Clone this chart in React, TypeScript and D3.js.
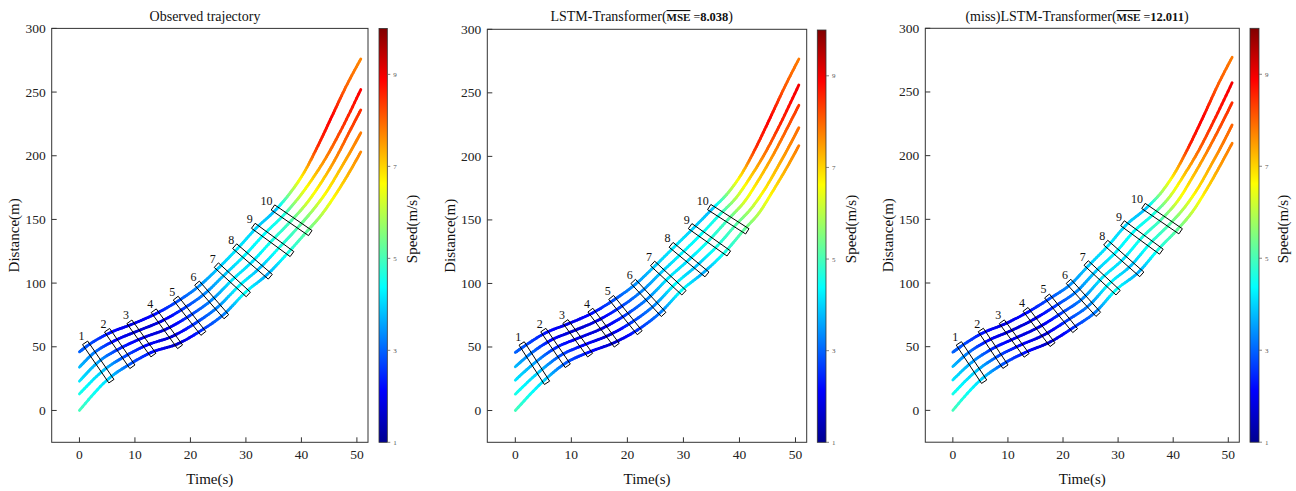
import React from 'react';
import * as d3 from 'd3';

type P = [number, number];

// ---------- axis / colour data ----------
const xTicks = [0, 10, 20, 30, 40, 50];
const yTicks = [0, 50, 100, 150, 200, 250, 300];
const speedTicks = [1, 3, 5, 7, 9];
const timeDomain: P = [-5, 52];
const distDomain: P = [-25, 300];
const speedDomain: P = [1, 10];

const titles = ['Observed trajectory', 'LSTM-Transformer(', '(miss)LSTM-Transformer('];
const mseValues = ['', '8.038', '12.011'];

// ---------- observed trajectories [time(s), distance(m)] ----------
const obsA: P[] = [[0,46],[1.4,50.7],[5.34,60.7],[9.34,67.5],[13.78,76.0],[17.79,86.0],[21.62,97.9],[25.16,112.3],[28.48,127.1],[31.86,143.2],[35.44,157.8],[38,171],[40.5,187],[43,208],[45.5,231],[48,254],[50.7,276]];
const obsB: P[] = [[0,34],[2.39,44.4],[6.3,54.7],[10.25,62.0],[14.76,70.1],[18.82,80.2],[22.74,92.3],[26.35,107.4],[29.83,122.0],[33.33,138.6],[36.84,153.6],[39.5,167],[42,182],[44.5,199],[47,219],[50.7,252]];
const obsC: P[] = [[0,23],[3.39,38.05],[7.26,48.65],[11.15,56.55],[15.75,64.15],[19.85,74.35],[23.85,86.8],[27.55,102.6],[31.18,117.0],[34.8,133.9],[38.25,149.35],[41,163],[43.5,178.5],[46,196.5],[48.5,217.5],[50.7,236]];
const obsD: P[] = [[0,13],[4.39,31.7],[8.22,42.6],[12.05,51.1],[16.74,58.2],[20.88,68.5],[24.96,81.3],[28.75,97.8],[32.53,112.0],[36.27,129.2],[39.66,145.1],[42,157],[44.5,171.5],[47,189.5],[49,204.5],[50.7,218]];
const obsE: P[] = [[0,0],[5.38,25.4],[9.18,36.6],[12.96,45.6],[17.72,52.3],[21.91,62.7],[26.08,75.7],[29.94,92.9],[33.88,106.9],[37.74,124.6],[41.06,140.9],[43.5,153],[46,168.5],[48.5,186],[50.7,203]];
// speeds (m/s) at the same points
const obsAv = [3.0,2.9,2.3,1.8,2.2,2.8,3.4,3.9,4.2,4.0,3.8,5.6,7.0,8.5,8.9,8.0,7.7];
const obsBv = [3.8,3.3,2.2,1.6,1.8,2.6,3.3,3.9,4.3,4.4,4.6,6.0,7.0,7.7,8.3,8.9];
const obsCv = [4.2,3.6,2.5,1.9,1.7,2.6,3.3,4.2,4.1,4.6,5.0,6.2,6.9,7.6,8.2,8.5];
const obsDv = [4.6,3.9,2.8,2.2,1.6,2.6,3.3,4.4,3.8,4.6,5.1,5.8,6.7,7.2,7.6,7.8];
const obsEv = [5.0,4.0,2.9,2.3,1.5,2.5,3.2,4.5,3.6,4.6,5.2,5.9,6.7,7.3,7.7];

// ---------- LSTM-Transformer predictions ----------
const lstmA: P[] = [[0,45.7],[1.49,50.3],[5.35,61.0],[9.29,68.0],[13.78,76.8],[17.51,86.8],[21.47,99.5],[24.95,113.9],[28.31,128.5],[31.75,143.4],[35.14,158.6],[38,171.5],[40.5,187],[43,207.5],[45.5,230.5],[48,254],[50.6,276.6]];
const lstmB: P[] = [[0,34.4],[2.44,43.8],[6.26,55.1],[10.22,62.4],[14.76,71.0],[18.58,80.9],[22.61,94.1],[26.12,109.0],[29.66,123.6],[33.2,138.9],[36.57,154.6],[39.5,168],[42,184],[44.5,202],[47,223],[50.6,256.2]];
const lstmC: P[] = [[0,23.9],[3.4,37.3],[7.18,49.25],[11.15,56.85],[15.75,65.2],[19.65,75.1],[23.75,88.6],[27.3,104.2],[31.0,118.75],[34.65,134.35],[38.0,150.55],[41,165],[43.5,182],[46,201],[48.5,222],[50.6,240.2]];
const lstmD: P[] = [[0,12.9],[4.35,30.8],[8.1,43.4],[12.07,51.3],[16.74,59.4],[20.72,69.3],[24.89,83.1],[28.48,99.4],[32.34,113.9],[36.1,129.8],[39.43,146.5],[42,158.5],[44.5,174],[47,193],[49,209],[50.6,222.6]];
const lstmE: P[] = [[0,0],[5.3,24.3],[9.01,37.45],[13.0,45.7],[17.72,53.6],[21.79,63.4],[26.03,77.7],[29.65,94.5],[33.69,109.0],[37.55,125.3],[40.86,142.5],[43.5,155.5],[46,173],[48.5,191.5],[50.6,208.4]];
const lstmAv = [3.0,2.9,2.3,1.8,2.2,2.8,3.4,3.9,4.2,4.0,3.8,5.6,7.0,8.5,8.9,8.1,7.8];
const lstmBv = [3.8,3.3,2.2,1.6,1.8,2.6,3.3,3.9,4.3,4.4,4.6,6.0,7.0,7.8,8.5,9.0];
const lstmCv = [4.2,3.6,2.5,1.9,1.7,2.6,3.3,4.2,4.1,4.6,5.0,6.3,7.0,7.6,8.1,8.4];
const lstmDv = [4.6,3.9,2.8,2.2,1.6,2.6,3.3,4.4,3.8,4.6,5.1,5.9,6.8,7.3,7.7,7.9];
const lstmEv = [5.0,4.0,2.9,2.3,1.5,2.5,3.2,4.5,3.6,4.6,5.2,6.0,6.8,7.4,7.8];

// ---------- (miss) LSTM-Transformer predictions ----------
const missA: P[] = [[0,45.7],[1.46,50.2],[5.44,60.8],[9.25,67.5],[13.59,77.1],[17.51,87.6],[21.43,99.2],[24.66,113.8],[28.27,129.7],[31.36,145.1],[35.14,158.9],[38,172],[40.5,188],[43,208.5],[45.5,231],[48,254.5],[50.7,277.2]];
const missB: P[] = [[0,34.4],[2.42,43.9],[6.38,54.75],[10.2,61.9],[14.62,71.3],[18.58,81.9],[22.57,93.8],[25.88,108.9],[29.65,124.5],[32.84,140.4],[36.56,154.7],[39.5,168.5],[42,185],[44.5,203],[47,224],[50.7,257.3]];
const missC: P[] = [[0,23.9],[3.39,37.55],[7.32,48.7],[11.15,56.4],[15.65,65.45],[19.65,76.2],[23.7,88.35],[27.1,104.05],[31.03,119.25],[34.33,135.75],[37.98,150.55],[41,165.5],[43.5,183],[46,202],[48.5,222.5],[50.7,241.6]];
const missD: P[] = [[0,12.9],[4.35,31.2],[8.25,42.65],[12.09,50.9],[16.68,59.6],[20.72,70.5],[24.83,82.9],[28.32,99.2],[32.4,114.0],[35.81,131.1],[39.39,146.4],[42,159],[44.5,174.5],[47,193.5],[49,209.5],[50.7,224.1]];
const missE: P[] = [[0,0],[5.31,24.9],[9.19,36.6],[13.04,45.3],[17.71,53.8],[21.79,64.8],[25.97,77.5],[29.54,94.3],[33.78,108.8],[37.29,126.4],[40.81,142.2],[43.5,156],[46,173],[48.5,192],[50.7,209.7]];
const missAv = [3.0,2.9,2.3,1.8,2.2,2.8,3.4,3.9,4.2,4.0,3.8,5.8,7.1,8.6,8.9,8.1,7.8];
const missBv = [3.8,3.3,2.2,1.6,1.8,2.6,3.3,3.9,4.3,4.4,4.6,6.1,7.1,7.9,8.5,9.0];
const missCv = [4.2,3.6,2.5,1.9,1.7,2.6,3.3,4.2,4.1,4.6,5.0,6.4,7.1,7.7,8.2,8.5];
const missDv = [4.6,3.9,2.8,2.2,1.6,2.6,3.3,4.4,3.8,4.6,5.1,6.0,6.9,7.4,7.8,8.0];
const missEv = [5.0,4.0,2.9,2.3,1.5,2.5,3.2,4.5,3.6,4.6,5.2,6.1,6.9,7.5,7.8];

// ---------- numbered boxes: [t0, d0, t1, d1] (top end -> bottom end) ----------
const obsBoxes: number[][] = [[1.02,53.1,5.76,23.0],[4.98,63.0,9.54,34.3],[9.0,69.6,13.33,43.5],[13.39,78.3,18.13,50.0],[17.35,88.2,22.33,60.5],[21.19,100.0,26.47,73.6],[24.67,114.1,30.43,91.1],[27.97,129.0,34.39,105.0],[31.33,145.0,38.3,122.8],[34.87,159.4,41.6,139.3]];
const lstmBoxes: number[][] = [[1.13,52.8,5.66,21.8],[5.0,63.3,9.36,35.2],[8.94,70.1,13.35,43.6],[13.4,79.0,18.1,51.4],[17.1,89.0,22.2,61.2],[21.04,101.6,26.46,75.6],[24.5,115.7,30.1,92.7],[27.8,130.4,34.2,107.1],[31.2,145.1,38.1,123.6],[34.6,160.1,41.4,141.0]];
const missBoxes: number[][] = [[1.09,52.6,5.68,22.5],[5.08,63.1,9.55,34.3],[8.89,69.6,13.4,43.2],[13.2,79.3,18.1,51.6],[17.1,89.8,22.2,62.6],[21.0,101.3,26.4,75.4],[24.2,115.7,30.0,92.4],[27.75,131.7,34.3,106.8],[30.8,146.9,37.85,124.6],[34.6,160.5,41.35,140.6]];

// ---------- jet colormap ----------
const jetStops = [0, 0.125, 0.375, 0.625, 0.875, 1];
const jetColors = ['#000090', '#0000ff', '#00ffff', '#ffff00', '#ff0000', '#800000'];
const jet = d3.scaleLinear<string>()
  .domain(jetStops.map(s => speedDomain[0] + (speedDomain[1] - speedDomain[0]) * s))
  .range(jetColors)
  .clamp(true);

// ---------- layout ----------
const layouts = [
  { box: [51.7, 368, 28.4, 442.3], cbar: [379, 387.3, 28.4, 442.3], yLab: 19, sLab: 416.5, title: 205 },
  { box: [487.3, 806.7, 29.3, 442.3], cbar: [817.3, 826, 30, 442.3], yLab: 455, sLab: 855.5, title: 641.7 },
  { box: [925.3, 1239.3, 28.3, 442.2], cbar: [1250, 1259, 28.3, 442.2], yLab: 893, sLab: 1287.5, title: 1077 },
];
const panelLines = [[obsA, obsB, obsC, obsD, obsE], [lstmA, lstmB, lstmC, lstmD, lstmE], [missA, missB, missC, missD, missE]];
const panelSpeeds = [[obsAv, obsBv, obsCv, obsDv, obsEv], [lstmAv, lstmBv, lstmCv, lstmDv, lstmEv], [missAv, missBv, missCv, missDv, missEv]];
const panelBoxes = [obsBoxes, lstmBoxes, missBoxes];

type S = { t: number; d: number };
// Walk the d3 monotone curve and collect points along its cubic pieces
function sampleCurve(pts: P[], n = 10): S[] {
  const out: S[] = [];
  let cx = 0, cy = 0;
  const ctx: any = {
    moveTo(x: number, y: number) { cx = x; cy = y; },
    lineTo(x: number, y: number) {
      if (!out.length) out.push({ t: cx, d: cy });
      out.push({ t: x, d: y });
      cx = x; cy = y;
    },
    bezierCurveTo(x1: number, y1: number, x2: number, y2: number, x: number, y: number) {
      for (let k = out.length ? 1 : 0; k <= n; k++) {
        const s = k / n, m = 1 - s;
        const bx = m * m * m * cx + 3 * m * m * s * x1 + 3 * m * s * s * x2 + s * s * s * x;
        const by = m * m * m * cy + 3 * m * m * s * y1 + 3 * m * s * s * y2 + s * s * s * y;
        out.push({ t: bx, d: by });
      }
      cx = x; cy = y;
    },
    closePath() {},
  };
  d3.line<P>().curve(d3.curveMonotoneX).context(ctx)(pts);
  return out;
}

const FONT = "'Liberation Serif','Times New Roman',Times,serif";

function Panel({ idx }: { idx: number }) {
  const lay = layouts[idx];
  const [L, R, T, B] = lay.box;
  const [cL, cR, cT, cB] = lay.cbar;
  const x = d3.scaleLinear().domain(timeDomain).range([L, R]);
  const y = d3.scaleLinear().domain(distDomain).range([B, T]);
  const c = d3.scaleLinear().domain(speedDomain).range([cB, cT]);
  const axisColor = '#333';
  const hw = 3.1;

  return (
    <g>
      {/* title */}
      <text x={lay.title} y={21} textAnchor="middle" fontSize={14} fill="#111">
        {titles[idx]}
        {mseValues[idx] ? (
          <>
            <tspan fontSize={11} fontWeight="bold" style={{ textDecoration: 'overline' }}>MSE</tspan>
            <tspan fontSize={12}> =</tspan>
            <tspan fontSize={12.5} fontWeight="bold">{mseValues[idx]}</tspan>
            <tspan fontSize={14}>)</tspan>
          </>
        ) : null}
      </text>

      {/* trajectories coloured by speed */}
      {panelLines[idx].map((pts, li) => {
        const s = sampleCurve(pts);
        const sp = d3.scaleLinear().domain(pts.map(p => p[0])).range(panelSpeeds[idx][li]).clamp(true);
        return (
          <g key={li}>
            {s.slice(1).map((q, k) => {
              const p0 = s[k];
              return (
                <line key={k} x1={x(p0.t)} y1={y(p0.d)} x2={x(q.t)} y2={y(q.d)}
                  stroke={jet(sp((p0.t + q.t) / 2))} strokeWidth={2.8} strokeLinecap="round" />
              );
            })}
          </g>
        );
      })}

      {/* numbered boxes */}
      {panelBoxes[idx].map((r, k) => {
        const ax = x(r[0]), ay = y(r[1]), bx = x(r[2]), by = y(r[3]);
        const len = Math.hypot(bx - ax, by - ay);
        const nx = (-(by - ay) / len) * hw, ny = ((bx - ax) / len) * hw;
        const pts = [[ax + nx, ay + ny], [bx + nx, by + ny], [bx - nx, by - ny], [ax - nx, ay - ny]];
        return (
          <g key={k}>
            <polygon points={pts.map(p => p.join(',')).join(' ')} fill="none" stroke="#000" strokeWidth={1} />
            <text x={ax - 0.5} y={ay - 2.5} textAnchor="end" fontSize={12} fill="#111">{k + 1}</text>
          </g>
        );
      })}

      {/* frame */}
      <rect x={L} y={T} width={R - L} height={B - T} fill="none" stroke={axisColor} strokeWidth={1} />
      {xTicks.map(t => (
        <g key={'x' + t}>
          <line x1={x(t)} x2={x(t)} y1={B} y2={B - 5} stroke={axisColor} />
          <text x={x(t)} y={B + 17} textAnchor="middle" fontSize={13.5} fill="#222">{t}</text>
        </g>
      ))}
      {yTicks.map(t => (
        <g key={'y' + t}>
          <line x1={L} x2={L + 5} y1={y(t)} y2={y(t)} stroke={axisColor} />
          <text x={L - 6} y={y(t) + 4.5} textAnchor="end" fontSize={13.5} fill="#222">{t}</text>
        </g>
      ))}
      <text x={(L + R) / 2} y={483.5} textAnchor="middle" fontSize={15} fill="#111">Time(s)</text>
      <text transform={`translate(${lay.yLab},${(T + B) / 2}) rotate(-90)`} textAnchor="middle" fontSize={15} fill="#111">Distance(m)</text>

      {/* colorbar */}
      <rect x={cL} y={cT} width={cR - cL} height={cB - cT} fill="url(#jetGrad)" stroke="#333" strokeWidth={0.8} />
      {speedTicks.map(s => (
        <g key={'s' + s}>
          <line x1={cR} x2={cR + 3} y1={c(s)} y2={c(s)} stroke="#666" strokeWidth={0.8} />
          <text x={cR + 6} y={c(s) + 2.5} fontSize={7} fill="#555">{s}</text>
        </g>
      ))}
      <text transform={`translate(${lay.sLab},${229}) rotate(-90)`} textAnchor="middle" fontSize={15} fill="#111">Speed(m/s)</text>
    </g>
  );
}

export default function App() {
  return (
    <svg width={1296} height={491} style={{ position: 'absolute', left: 0, top: 0, background: '#fff' }} fontFamily={FONT}>
      <defs>
        <linearGradient id="jetGrad" x1="0" y1="1" x2="0" y2="0">
          {jetStops.map((s, i) => <stop key={s} offset={s} stopColor={jetColors[i]} />)}
        </linearGradient>
      </defs>
      <rect width={1296} height={491} fill="#fff" />
      {[0, 1, 2].map(i => <Panel key={i} idx={i} />)}
    </svg>
  );
}
